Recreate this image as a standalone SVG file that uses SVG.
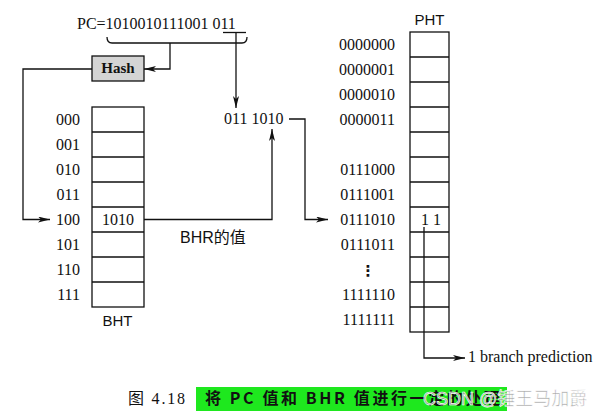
<svg xmlns="http://www.w3.org/2000/svg" width="606" height="415" viewBox="0 0 606 415">
<defs>
<marker id="ah" viewBox="0 0 12 6" refX="12" refY="3" markerWidth="12" markerHeight="6" markerUnits="userSpaceOnUse" orient="auto">
<path d="M0,0 L12,3 L0,6 L3,3 Z" fill="#111"/>
</marker>
<style>
.ln{fill:none;stroke:#111;stroke-width:1.3}
.cell{fill:#fff;stroke:#111;stroke-width:1.3}
.num{font-family:"Liberation Serif","Times New Roman",serif;font-size:16px;fill:#111}
.sans{font-family:"Liberation Sans",Arial,sans-serif;font-size:15px;fill:#111}
.lbl{text-anchor:end}
</style>
</defs>
<rect width="606" height="415" fill="#fff"/>

<g id="pc">
<text class="num" x="77" y="29">PC=1010010111001 011</text>
<line class="ln" x1="223" y1="32.5" x2="246" y2="32.5"/>
<path class="ln" d="M107,37 Q107,43 112,43 L242,43 Q247,43 247,37"/>
</g>

<g id="hash">
<rect x="92" y="56" width="52" height="25" fill="#d4d4d4" stroke="#111" stroke-width="1.3"/>
<text x="118" y="73" text-anchor="middle" font-family="Liberation Serif,serif" font-weight="bold" font-size="15" fill="#111">Hash</text>
</g>

<g id="bht">
<rect class="cell" x="92" y="107" width="52" height="200"/>
<path class="ln" d="M92,132H144M92,157H144M92,182H144M92,207H144M92,232H144M92,257H144M92,282H144"/>
<text class="num lbl" x="80" y="125">000</text>
<text class="num lbl" x="80" y="150">001</text>
<text class="num lbl" x="80" y="175">010</text>
<text class="num lbl" x="80" y="200">011</text>
<text class="num lbl" x="80" y="225">100</text>
<text class="num lbl" x="80" y="250">101</text>
<text class="num lbl" x="80" y="275">110</text>
<text class="num lbl" x="80" y="300">111</text>
<text class="num" x="102" y="225">1010</text>
<text class="sans" x="117.5" y="326" text-anchor="middle">BHT</text>
</g>

<g id="index">
<text class="num" x="224" y="124">011 1010</text>
</g>

<g id="bhr-label">
<text x="180" y="243" font-family="Liberation Sans,'Noto Sans CJK SC',sans-serif" font-size="16" fill="#111">BHR的值</text>
</g>

<g id="pht">
<text class="sans" x="429.5" y="25" text-anchor="middle">PHT</text>
<rect class="cell" x="410" y="32" width="39" height="300"/>
<path class="ln" d="M410,57H449M410,82H449M410,107H449M410,132H449M410,157H449M410,182H449M410,207H449M410,232H449M410,257H449M410,282H449M410,307H449"/>
<text class="num lbl" x="395" y="50">0000000</text>
<text class="num lbl" x="395" y="75">0000001</text>
<text class="num lbl" x="395" y="100">0000010</text>
<text class="num lbl" x="395" y="125">0000011</text>
<text class="num lbl" x="395" y="175">0111000</text>
<text class="num lbl" x="395" y="200">0111001</text>
<text class="num lbl" x="395" y="225">0111010</text>
<text class="num lbl" x="395" y="250">0111011</text>
<text x="368" y="276" text-anchor="middle" font-family="DejaVu Sans,sans-serif" font-size="15" font-weight="bold" fill="#111">⋮</text>
<text class="num lbl" x="395" y="300">1111110</text>
<text class="num lbl" x="395" y="325">1111111</text>
<text class="num" x="421" y="225">1 1</text>
</g>

<g id="prediction">
<text class="num" x="468" y="362">1 branch prediction</text>
</g>

<g id="connectors">
<polyline class="ln" points="170,43 170,69 144,69" marker-end="url(#ah)"/>
<polyline class="ln" points="236,33 236,108" marker-end="url(#ah)"/>
<polyline class="ln" points="92,69 23,69 23,219.5 50,219.5" marker-end="url(#ah)"/>
<polyline class="ln" points="144,219.5 272,219.5 272,129" marker-end="url(#ah)"/>
<polyline class="ln" points="289,119 305,119 305,219.5 328,219.5" marker-end="url(#ah)"/>
<polyline class="ln" points="424,227 424,358 465,358" marker-end="url(#ah)"/>
</g>

<g id="caption">
<text x="128" y="404" font-family="Liberation Serif,'Noto Sans CJK SC',serif" font-size="16" fill="#111" textLength="57" lengthAdjust="spacing">图 4.18</text>
<rect x="196" y="387" width="311" height="24" fill="#1ee81e"/>
<text x="205" y="404" font-family="'Noto Sans CJK SC',serif" font-weight="bold" font-size="16" fill="#111" textLength="295" lengthAdjust="spacing">将 PC 值和 BHR 值进行一定的处理</text>
<text x="423" y="405" font-family="Liberation Sans,'Noto Sans CJK SC',sans-serif" font-size="18" fill="#9a9a9a" fill-opacity="0.9" stroke="#fff" stroke-width="0.6">CSDN @锤王马加爵</text>
</g>
</svg>
